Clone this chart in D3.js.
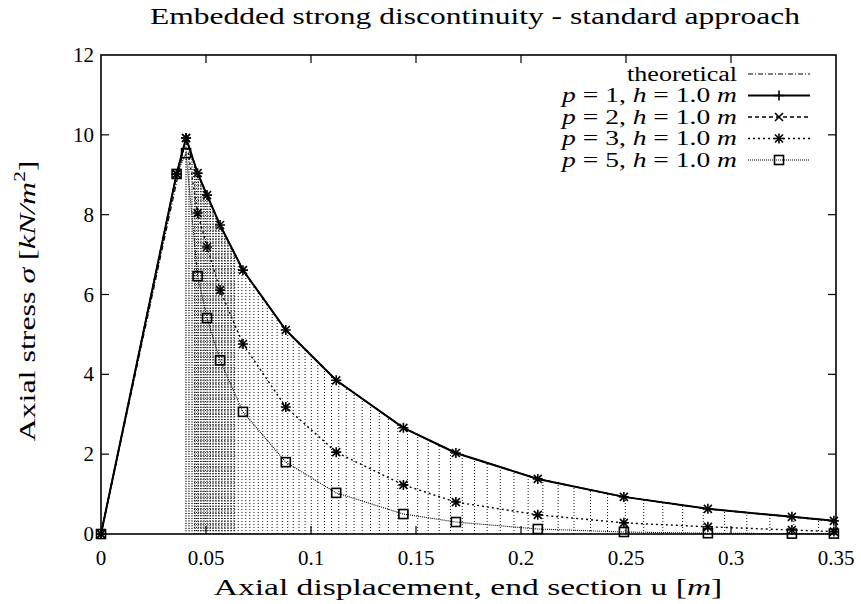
<!DOCTYPE html>
<html>
<head>
<meta charset="utf-8">
<script src="https://cdn.jsdelivr.net/npm/d3@7"></script>
<style>
  html, body { margin: 0; padding: 0; background: #fff; }
  svg text { font-family: "Liberation Serif", "Times New Roman", serif; fill: #000; }
</style>
</head>
<body>
<svg id="chart" width="861" height="604"></svg>
<script>
// Displacement of the end section [m] at which every run reports a value
const displacement = [0, 0.036, 0.0405, 0.046, 0.0505, 0.0567, 0.0676, 0.088, 0.112, 0.144, 0.169, 0.208, 0.249, 0.289, 0.329, 0.349];

// Axial stress [kN/m^2] for each run
const stressP1 = [0, 9.02, 9.92, 9.04, 8.49, 7.74, 6.61, 5.11, 3.85, 2.66, 2.03, 1.38, 0.93, 0.63, 0.43, 0.33];
const stressP2 = [0, 9.02, 9.92, 9.04, 8.49, 7.74, 6.61, 5.11, 3.85, 2.66, 2.03, 1.38, 0.93, 0.63, 0.43, 0.33];
const stressP3 = [0, 9.02, 9.92, 8.04, 7.19, 6.11, 4.76, 3.18, 2.05, 1.23, 0.80, 0.48, 0.28, 0.18, 0.10, 0.06];
const stressP5 = [0, 9.02, 9.54, 6.46, 5.41, 4.35, 3.06, 1.80, 1.03, 0.50, 0.30, 0.125, 0.05, 0.02, 0.01, 0.01];

// Theoretical softening response
const theoryU = [0, 0.0405, 0.046, 0.0505, 0.0567, 0.0676, 0.088, 0.112, 0.144, 0.169, 0.208, 0.249, 0.289, 0.329, 0.35];
const theorySigma = [0, 9.92, 9.04, 8.49, 7.74, 6.61, 5.11, 3.85, 2.66, 2.03, 1.38, 0.93, 0.63, 0.43, 0.32];

// Axis ticks
const xTicks = [0, 0.05, 0.1, 0.15, 0.2, 0.25, 0.3, 0.35];
const xTickLabels = ["0", "0.05", "0.1", "0.15", "0.2", "0.25", "0.3", "0.35"];
const yTicks = [0, 2, 4, 6, 8, 10, 12];
const yTickLabels = ["0", "2", "4", "6", "8", "10", "12"];

// Legend entries (p values; mesh size h = 1.0 m for all runs)
const runP = ["1", "2", "3", "5"];

const svg = d3.select("#chart");
const pLeft = 101, pRight = 836, pTop = 55, pBottom = 534;

const x = d3.scaleLinear().domain([0, 0.35]).range([pLeft, pRight]);
const y = d3.scaleLinear().domain([0, 12]).range([pBottom, pTop]);

// Text placed in its own group and scaled horizontally to a given width
function wideText(parent, px, py, anchor, size, width, build, angle = 0) {
  const g = parent.append("g");
  const t = g.append("text").attr("text-anchor", anchor).attr("font-size", size);
  build(t);
  const natural = t.node().getComputedTextLength();
  const sx = width / natural;
  g.attr("transform", `translate(${px},${py}) rotate(${angle}) scale(${sx},1)`);
  return t;
}

const plot = svg.append("g");

// ---- hatched band under the theoretical softening branch ----
const peakIdx = 1;
const softU = theoryU.slice(peakIdx);
const softS = theorySigma.slice(peakIdx);
const uOfSigma = d3.scaleLinear().domain(softS).range(softU);
const sigmaOfU = d3.scaleLinear().domain(softU).range(softS);
const hatch = plot.append("g");
const uStart = 0.04, uBand = 0.064;
for (let s = 0.08; s < softS[0] - 0.02; s += 0.062) {
  const uEnd = Math.min(uOfSigma(s), uBand);
  hatch.append("line")
    .attr("x1", x(uStart)).attr("x2", x(uEnd))
    .attr("y1", y(s)).attr("y2", y(s))
    .attr("stroke", "#555").attr("stroke-width", 1)
    .attr("stroke-dasharray", "2,1");
}
for (let u = 0.0445; u < 0.35; u += 0.0008 + 0.038 * (u - 0.04)) {
  hatch.append("line")
    .attr("x1", x(u)).attr("x2", x(u))
    .attr("y1", y(0)).attr("y2", y(sigmaOfU(u)))
    .attr("stroke", "#111").attr("stroke-width", 1)
    .attr("stroke-dasharray", "1,2");
}

// ---- curves ----
const line = d3.line().x(d => x(d[0])).y(d => y(d[1]));
const theoryPts = theoryU.map((u, i) => [u, theorySigma[i]]);

const series = [
  { vals: stressP5, dash: "1,1", width: 1.1, marker: "box" },
  { vals: stressP3, dash: "2,3", width: 1.4, marker: "star" },
  { vals: stressP2, dash: "4,3", width: 1.5, marker: "cross" },
  { vals: stressP1, dash: null, width: 2, marker: "plus" }
];

plot.append("path").datum(theoryPts).attr("d", line)
  .attr("fill", "none").attr("stroke", "#000").attr("stroke-width", 1.2)
  .attr("stroke-dasharray", "5,2,1,2");

series.forEach(s => {
  const pts = displacement.map((u, i) => [u, s.vals[i]]);
  plot.append("path").datum(pts).attr("d", line)
    .attr("fill", "none").attr("stroke", "#000")
    .attr("stroke-width", s.width)
    .attr("stroke-dasharray", s.dash);
});

function drawMarker(g, type, cx, cy) {
  const sw = 1.6;
  if (type === "plus" || type === "star") {
    g.append("path").attr("d", `M${cx - 5},${cy}H${cx + 5}M${cx},${cy - 5}V${cy + 5}`)
      .attr("stroke", "#000").attr("stroke-width", sw).attr("fill", "none");
  }
  if (type === "cross" || type === "star") {
    g.append("path").attr("d", `M${cx - 4},${cy - 4}L${cx + 4},${cy + 4}M${cx - 4},${cy + 4}L${cx + 4},${cy - 4}`)
      .attr("stroke", "#000").attr("stroke-width", sw).attr("fill", "none");
  }
  if (type === "box") {
    g.append("rect").attr("x", cx - 4.5).attr("y", cy - 4.5).attr("width", 9).attr("height", 9)
      .attr("stroke", "#000").attr("stroke-width", 1.6).attr("fill", "none");
  }
}

const markers = plot.append("g");
series.forEach(s => {
  displacement.forEach((u, i) => drawMarker(markers, s.marker, x(u), y(s.vals[i])));
});

// ---- frame and ticks (mirrored, inward) ----
const axes = svg.append("g");
axes.append("rect").attr("x", pLeft).attr("y", pTop)
  .attr("width", pRight - pLeft).attr("height", pBottom - pTop)
  .attr("fill", "none").attr("stroke", "#000").attr("stroke-width", 1.6);

const tl = 8;
xTicks.forEach((t, i) => {
  const px = x(t);
  if (i > 0 && i < xTicks.length - 1) {
    axes.append("line").attr("x1", px).attr("x2", px).attr("y1", pBottom).attr("y2", pBottom - tl)
      .attr("stroke", "#000").attr("stroke-width", 1.2);
    axes.append("line").attr("x1", px).attr("x2", px).attr("y1", pTop).attr("y2", pTop + tl)
      .attr("stroke", "#000").attr("stroke-width", 1.2);
  }
  axes.append("text").attr("x", px).attr("y", 565)
    .attr("text-anchor", "middle").attr("font-size", 21).text(xTickLabels[i]);
});
yTicks.forEach((t, i) => {
  const py = y(t);
  if (i > 0 && i < yTicks.length - 1) {
    axes.append("line").attr("x1", pLeft).attr("x2", pLeft + tl).attr("y1", py).attr("y2", py)
      .attr("stroke", "#000").attr("stroke-width", 1.2);
    axes.append("line").attr("x1", pRight).attr("x2", pRight - tl).attr("y1", py).attr("y2", py)
      .attr("stroke", "#000").attr("stroke-width", 1.2);
  }
  axes.append("text").attr("x", 94).attr("y", py + 7)
    .attr("text-anchor", "end").attr("font-size", 21).text(yTickLabels[i]);
});

// ---- titles ----
wideText(svg, 475, 24, "middle", 24, 650,
  t => t.text("Embedded strong discontinuity - standard approach"));

wideText(svg, 468, 595, "middle", 24, 509, t => {
  t.append("tspan").text("Axial displacement, end section u [");
  t.append("tspan").attr("font-style", "italic").text("m");
  t.append("tspan").text("]");
});

wideText(svg, 35, 301, "middle", 24, 281, t => {
  t.append("tspan").text("Axial stress ");
  t.append("tspan").attr("font-style", "italic").text("σ");
  t.append("tspan").text(" [");
  t.append("tspan").attr("font-style", "italic").text("kN/m");
  t.append("tspan").attr("font-size", 16).attr("dy", -10).text("2");
  t.append("tspan").attr("dy", 10).text("]");
}, -90);

// ---- legend ----
const legend = svg.append("g");
const textRight = 737, sx1 = 748, sx2 = 810;
const rowY = i => 74 + i * 21.5;

wideText(legend, textRight, rowY(0) + 6.5, "end", 20, 110, t => t.text("theoretical"));
legend.append("line").attr("x1", sx1).attr("x2", sx2).attr("y1", rowY(0)).attr("y2", rowY(0))
  .attr("stroke", "#000").attr("stroke-width", 1.2).attr("stroke-dasharray", "5,2,1,2");

const legendSeries = [series[3], series[2], series[1], series[0]];
runP.forEach((p, i) => {
  const ry = rowY(i + 1);
  wideText(legend, textRight, ry + 6.5, "end", 20, 175, t => {
    t.append("tspan").attr("font-style", "italic").text("p");
    t.append("tspan").text(" = " + p + ", ");
    t.append("tspan").attr("font-style", "italic").text("h");
    t.append("tspan").text(" = 1.0 ");
    t.append("tspan").attr("font-style", "italic").text("m");
  });
  const s = legendSeries[i];
  legend.append("line").attr("x1", sx1).attr("x2", sx2).attr("y1", ry).attr("y2", ry)
    .attr("stroke", "#000").attr("stroke-width", s.width).attr("stroke-dasharray", s.dash);
  drawMarker(legend, s.marker, (sx1 + sx2) / 2, ry);
});
</script>
</body>
</html>
